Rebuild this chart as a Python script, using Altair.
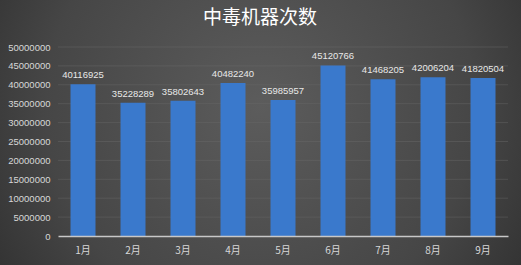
import altair as alt
import pandas as pd

months = ["1月", "2月", "3月", "4月", "5月", "6月", "7月", "8月", "9月"]
values = [40116925, 35228289, 35802643, 40482240, 35985957, 45120766, 41468205, 42006204, 41820504]
y_ticks = [0, 5000000, 10000000, 15000000, 20000000, 25000000, 30000000, 35000000, 40000000, 45000000, 50000000]

df = pd.DataFrame({"month": months, "value": values})
grid_df = pd.DataFrame({"g": y_ticks[1:]})

W, H = 450, 189
PL, PT = 58, 47

yscale = alt.Scale(domain=[0, 50000000])
yaxis = alt.Axis(title=None, values=y_ticks, format="d",
                 labelColor="#d8d8d8", labelFontSize=9.5, labelFont="Liberation Sans",
                 labelOverlap=False, domain=False, ticks=False, labelPadding=8,
                 grid=False, zindex=1)

bg = alt.Chart(pd.DataFrame({"a": [0]})).mark_rect(
    color=alt.RadialGradient(
        gradient="radial", x1=0.5, y1=0.45, x2=0.5, y2=0.45, r1=0, r2=0.75,
        stops=[alt.GradientStop(color="#5c5c5c", offset=0),
               alt.GradientStop(color="#464646", offset=0.55),
               alt.GradientStop(color="#232323", offset=1)]
    )
).encode(
    x=alt.value(-PL), x2=alt.value(521 - PL),
    y=alt.value(-PT), y2=alt.value(265 - PT)
)

base = alt.Chart(df).encode(
    x=alt.X("month:N", sort=months,
            scale=alt.Scale(paddingInner=0.5, paddingOuter=0.25),
            axis=alt.Axis(title=None, labelAngle=0, labelColor="#d8d8d8", labelFontSize=10,
                          labelFont="Noto Sans CJK SC", domainColor="#c8c8c8", domainWidth=1.5,
                          ticks=False, labelPadding=9, grid=False, zindex=1)),
    y=alt.Y("value:Q", scale=yscale, axis=yaxis)
)

bars = base.mark_bar(color="#3a79cc")

grid = alt.Chart(grid_df).mark_rule(
    color="#6a6a6a", opacity=0.55, strokeWidth=0.8
).encode(y=alt.Y("g:Q", scale=yscale, axis=yaxis))

text = base.mark_text(dy=-9, color="#e8e8e8", fontSize=9.5, font="Liberation Sans").encode(
    text=alt.Text("value:Q", format="d")
)

chart = alt.layer(bg, grid, bars, text).properties(
    width=W, height=H,
    padding={"left": PL, "top": PT, "right": 521 - PL - W, "bottom": 265 - PT - H},
    autosize=alt.AutoSizeParams(type="none"),
    title=alt.TitleParams("中毒机器次数", color="#ffffff", fontSize=19, font="Noto Sans CJK SC",
                          fontWeight="normal", dx=-23, offset=0, dy=28, zindex=1, frame="group")
).configure(background="#333333").configure_view(stroke=None)

chart.save("out.html", embed_options={"renderer": "svg", "actions": False})
